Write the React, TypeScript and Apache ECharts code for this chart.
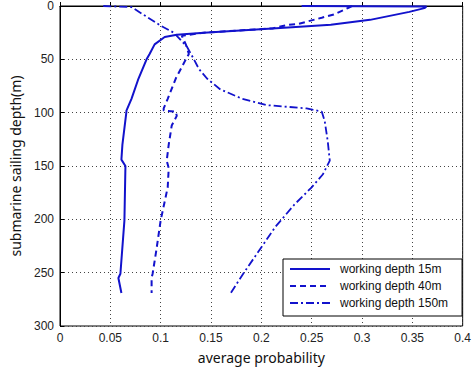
import React, { useEffect, useRef } from "react";
import * as echarts from "echarts";

const xTicks = [0, 0.05, 0.1, 0.15, 0.2, 0.25, 0.3, 0.35, 0.4];
const yTicks = [0, 50, 100, 150, 200, 250, 300];

const depth15 = [0, 0.5, 2, 5.5, 13, 17.6, 21, 25, 27, 29, 36, 45, 50, 68, 87, 98, 99, 130, 144, 150, 201, 251, 255, 269];
const prob15 = [0.24, 0.364, 0.362, 0.347, 0.308, 0.269, 0.211, 0.143, 0.116, 0.104, 0.094, 0.089, 0.086, 0.078, 0.071, 0.066, 0.066, 0.062, 0.061, 0.065, 0.064, 0.06, 0.058, 0.061];

const depth40 = [0, 1.9, 8, 11, 16.7, 17.6, 21, 25, 28, 36, 45, 50, 68, 87, 96, 98, 99, 103, 112, 130, 145, 152, 170, 201, 229, 251, 255, 269];
const prob40 = [0.29, 0.286, 0.272, 0.26, 0.237, 0.227, 0.211, 0.143, 0.121, 0.125, 0.128, 0.125, 0.115, 0.107, 0.103, 0.103, 0.115, 0.116, 0.111, 0.108, 0.106, 0.108, 0.107, 0.1, 0.0957, 0.092, 0.091, 0.091];

const depth150 = [0, 1, 7, 19, 25, 38, 50, 59, 68, 78, 87, 93, 96, 99, 108, 127, 145, 158, 170, 186, 207, 229, 251, 270];
const prob150 = [0.043, 0.071, 0.081, 0.101, 0.113, 0.126, 0.133, 0.138, 0.146, 0.159, 0.181, 0.206, 0.245, 0.26, 0.263, 0.266, 0.268, 0.261, 0.25, 0.233, 0.214, 0.198, 0.182, 0.169];

const seriesNames = ["working depth 15m", "working depth 40m", "working depth 150m"];

const pairs = (p: number[], d: number[]) => p.map((v, i) => [v, d[i]]);

const BLUE = "#1212cc";

export default function App() {
  const ref = useRef<HTMLDivElement>(null);
  useEffect(() => {
    if (!ref.current) return;
    const chart = echarts.init(ref.current, null, { renderer: "svg" });
    const tickFont = { fontFamily: "Liberation Sans", fontSize: 12, color: "#222" };
    chart.setOption({
      animation: false,
      backgroundColor: "#fff",
      grid: { left: 54, right: 10, top: 6, bottom: 39, show: true, borderColor: "#000", borderWidth: 1 },
      xAxis: {
        type: "value",
        min: xTicks[0],
        max: xTicks[xTicks.length - 1],
        interval: 0.05,
        name: "average probability",
        nameLocation: "middle",
        nameGap: 24,
        nameTextStyle: { fontFamily: "Noto Sans", fontSize: 14, color: "#111" },
        axisLine: { show: true, lineStyle: { color: "#000" } },
        axisTick: { show: true, inside: true, length: 4, lineStyle: { color: "#000" } },
        axisLabel: { ...tickFont, margin: 6 },
        splitLine: { show: true, lineStyle: { type: [1, 3], color: "#444" } },
      },
      yAxis: {
        type: "value",
        inverse: true,
        min: yTicks[0],
        max: yTicks[yTicks.length - 1],
        interval: 50,
        name: "submarine sailing depth(m)",
        nameLocation: "middle",
        nameGap: 38,
        nameRotate: 90,
        nameTextStyle: { fontFamily: "Noto Sans", fontSize: 14, color: "#111" },
        axisLine: { show: true, lineStyle: { color: "#000" } },
        axisTick: { show: true, inside: true, length: 4, lineStyle: { color: "#000" } },
        axisLabel: { ...tickFont, margin: 6 },
        splitLine: { show: true, lineStyle: { type: [1, 3], color: "#444" } },
      },
      legend: {
        orient: "vertical",
        left: 283,
        top: 259,
        itemWidth: 40,
        itemHeight: 10,
        itemGap: 5,
        padding: [4, 14, 7, 6],
        borderColor: "#000",
        borderWidth: 1,
        backgroundColor: "#fff",
        itemStyle: { opacity: 0 },
        textStyle: { fontFamily: "Liberation Sans", fontSize: 12, color: "#111", padding: [0, 0, 0, 5] },
        data: seriesNames,
      },
      series: [
        {
          name: seriesNames[0],
          type: "line",
          data: pairs(prob15, depth15),
          showSymbol: false,
          symbol: "none",
          lineStyle: { color: BLUE, width: 2, type: "solid" },
          itemStyle: { color: BLUE },
        },
        {
          name: seriesNames[1],
          type: "line",
          data: pairs(prob40, depth40),
          showSymbol: false,
          symbol: "none",
          lineStyle: { color: BLUE, width: 2, type: [6, 4] },
          itemStyle: { color: BLUE },
        },
        {
          name: seriesNames[2],
          type: "line",
          data: pairs(prob150, depth150),
          showSymbol: false,
          symbol: "none",
          lineStyle: { color: BLUE, width: 1.8, type: [8, 3, 2, 3] },
          itemStyle: { color: BLUE },
        },
      ],
    });
    return () => chart.dispose();
  }, []);
  return <div ref={ref} style={{ width: 474, height: 369, position: "absolute", left: 0, top: 0 }} />;
}
